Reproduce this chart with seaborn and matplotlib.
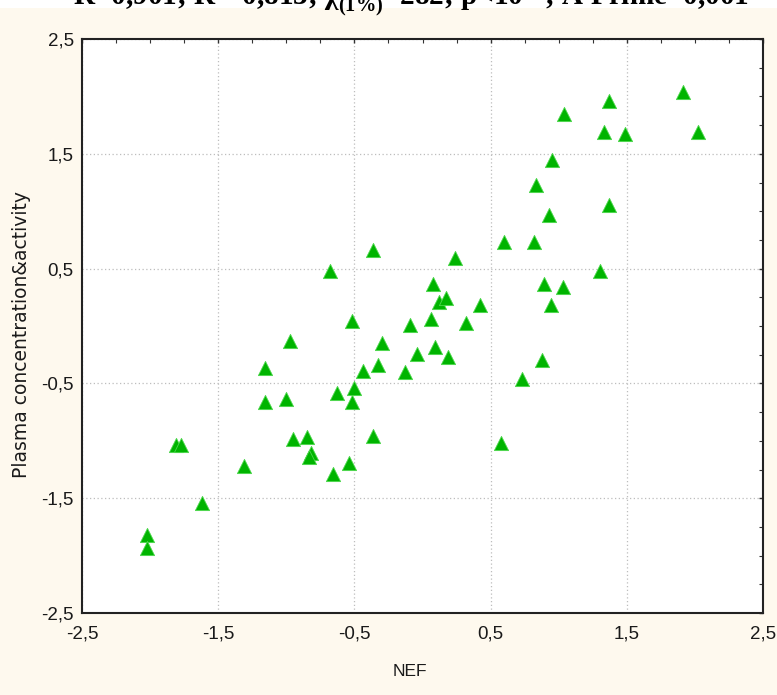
import numpy as np
import pandas as pd
import matplotlib
matplotlib.use("Agg")
import matplotlib.pyplot as plt
import seaborn as sns
from matplotlib.ticker import MultipleLocator, FixedLocator
from matplotlib.patches import Rectangle

# ---- data ----
nef = [-2.02, -2.02, -1.81, -1.77, -1.62, -1.31, -1.16, -1.16, -1.00, -0.97,
       -0.95, -0.85, -0.82, -0.83, -0.68, -0.66, -0.63, -0.54, -0.52, -0.52,
       -0.50, -0.36, -0.36, -0.33, -0.30, -0.44, -0.13, -0.04, -0.09, 0.06,
       0.09, 0.19, 0.08, 0.12, 0.17, 0.24, 0.32, 0.42, 0.58, 0.60,
       0.73, 0.82, 0.83, 0.88, 0.89, 0.93, 0.94, 0.95, 1.03, 1.04,
       1.30, 1.33, 1.37, 1.37, 1.49, 1.91, 2.02]
plasma = [-1.82, -1.93, -1.04, -1.04, -1.54, -1.22, -0.37, -0.66, -0.64, -0.13,
          -0.98, -0.97, -1.11, -1.14, 0.48, -1.29, -0.58, -1.19, 0.04, -0.66,
          -0.54, 0.66, -0.96, -0.34, -0.15, -0.39, -0.40, -0.24, 0.01, 0.06,
          -0.18, -0.27, 0.37, 0.21, 0.24, 0.59, 0.03, 0.18, -1.02, 0.73,
          -0.46, 0.73, 1.23, -0.30, 0.37, 0.97, 0.18, 1.45, 0.34, 1.85,
          0.48, 1.69, 1.96, 1.05, 1.67, 2.04, 1.69]
major_ticks = [-2.5, -1.5, -0.5, 0.5, 1.5, 2.5]
tick_labels = ["-2,5", "-1,5", "-0,5", "0,5", "1,5", "2,5"]
title_text = r"R=0,901; R$^{\mathbf{2}}$=0,813; $\mathbf{\chi}^{\mathbf{2}}_{\mathrm{(1\%)}}$=282; p<10$^{\mathbf{-4}}$; A Prime=0,001"
x_label = "NEF"
y_label = "Plasma concentration&activity"

df = pd.DataFrame({"NEF": nef, "Plasma": plasma})

sns.set_style("white")
plt.rcParams["font.family"] = ["Liberation Sans Narrow", "Liberation Sans", "DejaVu Sans"]
plt.rcParams["mathtext.fontset"] = "custom"
plt.rcParams["mathtext.rm"] = "Liberation Serif:bold"
plt.rcParams["mathtext.bf"] = "Liberation Serif:bold"
plt.rcParams["mathtext.it"] = "Liberation Serif:bold"

W, H = 777, 695
fig = plt.figure(figsize=(W / 100, H / 100), dpi=100, facecolor="white")
cream = "#FEF9EE"
fig.patches.append(Rectangle((0, 0), 1, 1 - 8 / H, transform=fig.transFigure,
                             facecolor=cream, edgecolor="none", zorder=-10))

ax = fig.add_axes([82 / W, 1 - 613 / H, (763 - 82) / W, (613 - 39) / H])
ax.set_facecolor("white")

sns.scatterplot(data=df, x="NEF", y="Plasma", ax=ax, marker="^", s=105,
                color="#00B400", edgecolor="#4DD84D", linewidth=0.6, zorder=3,
                legend=False)

ax.set_xlim(-2.5, 2.5)
ax.set_ylim(-2.5, 2.5)
for axis in (ax.xaxis, ax.yaxis):
    axis.set_major_locator(FixedLocator(major_ticks))
    axis.set_minor_locator(MultipleLocator(0.25))
ax.set_xticklabels(tick_labels)
ax.set_yticklabels(tick_labels)

ax.grid(True, which="major", linestyle=(0, (1, 2)), color="#BDBDBD", linewidth=0.9)
ax.tick_params(which="both", direction="in", top=True, right=True,
               colors="#333333", labelcolor="#1A1A1A")
ax.tick_params(which="major", length=3, width=1.0, labelsize=13.5)
ax.tick_params(which="minor", length=3, width=0.8)
ax.tick_params(axis="y", which="major", pad=6)
ax.tick_params(axis="x", which="major", pad=9)
for sp in ax.spines.values():
    sp.set_color("#222222")
    sp.set_linewidth(1.5)
    sp.set_visible(True)

ax.set_xlabel("")
ax.set_ylabel("")
fig.text(410 / W, 1 - 672 / H, x_label, ha="center", va="center", fontsize=12.5,
         color="#1A1A1A")
fig.text(22 / W, 1 - 335 / H, y_label, ha="center", va="center", rotation=90,
         fontsize=13.5, color="#1A1A1A", family=["DejaVu Sans"])

fig.text(411 / W, 1 - 5 / H, title_text, ha="center", va="baseline",
         fontsize=21, fontweight="bold", color="black",
         family=["Liberation Serif", "DejaVu Serif"])

fig.savefig("out.png", dpi=100, facecolor=fig.get_facecolor())
